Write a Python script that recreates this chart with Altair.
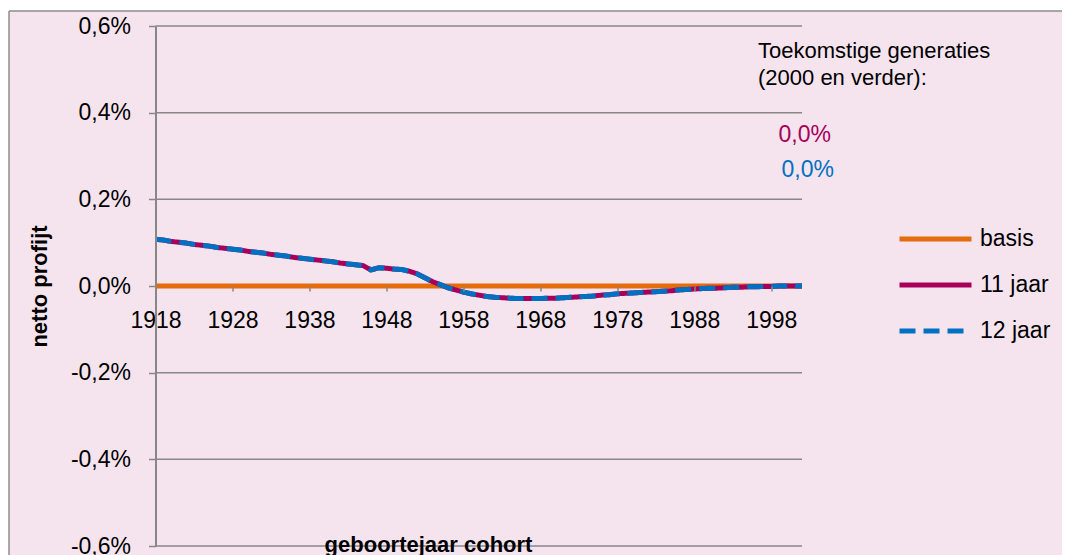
import altair as alt
import pandas as pd

# ---------------- data ----------------
years = list(range(1918, 2003))

series_names = ["basis", "11 jaar", "12 jaar"]
series_colors = ["#E46C0A", "#A6005B", "#0070C0"]
series_dashes = [[1, 0], [1, 0], [16, 8]]

basis = [
    0.000, 0.000, 0.000, 0.000, 0.000, 0.000, 0.000, 0.000, 0.000, 0.000,
    0.000, 0.000, 0.000, 0.000, 0.000, 0.000, 0.000, 0.000, 0.000, 0.000,
    0.000, 0.000, 0.000, 0.000, 0.000, 0.000, 0.000, 0.000, 0.000, 0.000,
    0.000, 0.000, 0.000, 0.000, 0.000, 0.000, 0.000, 0.000, 0.000, 0.000,
    0.000, 0.000, 0.000, 0.000, 0.000, 0.000, 0.000, 0.000, 0.000, 0.000,
    0.000, 0.000, 0.000, 0.000, 0.000, 0.000, 0.000, 0.000, 0.000, 0.000,
    0.000, 0.000, 0.000, 0.000, 0.000, 0.000, 0.000, 0.000, 0.000, 0.000,
    0.000, 0.000, 0.000, 0.000, 0.000, 0.000, 0.000, 0.000, 0.000, 0.000,
    0.000, 0.000, 0.000, 0.000, 0.000,
]

jaar11 = [
    0.108, 0.106, 0.103, 0.101, 0.099, 0.096, 0.094, 0.092, 0.089, 0.087,  # 1918-1927
    0.085, 0.083, 0.080, 0.078, 0.076, 0.073, 0.071, 0.069, 0.066, 0.064,  # 1928-1937
    0.062, 0.060, 0.058, 0.056, 0.053, 0.051, 0.049, 0.047, 0.037, 0.042,  # 1938-1947
    0.041, 0.039, 0.038, 0.034, 0.028, 0.019, 0.010, 0.003, -0.004, -0.009,  # 1948-1957
    -0.014, -0.018, -0.021, -0.024, -0.026, -0.027, -0.028, -0.029, -0.029, -0.029,  # 1958-1967
    -0.029, -0.028, -0.028, -0.027, -0.026, -0.025, -0.024, -0.023, -0.021, -0.020,  # 1968-1977
    -0.018, -0.017, -0.016, -0.015, -0.014, -0.013, -0.012, -0.011, -0.009, -0.008,  # 1978-1987
    -0.007, -0.006, -0.005, -0.005, -0.004, -0.003, -0.003, -0.002, -0.002, -0.001,  # 1988-1997
    -0.001, 0.000, 0.000, 0.000, 0.000,  # 1998-2002
]

jaar12 = [
    0.108, 0.106, 0.103, 0.101, 0.099, 0.096, 0.094, 0.092, 0.089, 0.087,
    0.085, 0.083, 0.080, 0.078, 0.076, 0.073, 0.071, 0.069, 0.066, 0.064,
    0.062, 0.060, 0.058, 0.056, 0.053, 0.051, 0.049, 0.047, 0.037, 0.042,
    0.041, 0.039, 0.038, 0.034, 0.028, 0.019, 0.010, 0.003, -0.004, -0.009,
    -0.014, -0.018, -0.021, -0.024, -0.026, -0.027, -0.028, -0.029, -0.029, -0.029,
    -0.029, -0.028, -0.028, -0.027, -0.026, -0.025, -0.024, -0.023, -0.021, -0.020,
    -0.018, -0.017, -0.016, -0.015, -0.014, -0.013, -0.012, -0.011, -0.009, -0.008,
    -0.007, -0.006, -0.005, -0.005, -0.004, -0.003, -0.003, -0.002, -0.002, -0.001,
    -0.001, 0.000, 0.000, 0.000, 0.000,
]

x_ticks = [1918, 1928, 1938, 1948, 1958, 1968, 1978, 1988, 1998]
y_ticks = [-0.6, -0.4, -0.2, 0.0, 0.2, 0.4, 0.6]
y_tick_labels = ["-0,6%", "-0,4%", "-0,2%", "0,0%", "0,2%", "0,4%", "0,6%"]

note_lines = ["Toekomstige generaties", "(2000 en verder):"]
future_labels = ["0,0%", "0,0%"]

x_title = "geboortejaar cohort"
y_title = "netto profijt"

# ---------------- build table ----------------
rows = []
for name, vals in zip(series_names, [basis, jaar11, jaar12]):
    for yr, v in zip(years, vals):
        rows.append({"jaar": yr, "reeks": name, "waarde": v})
df = pd.DataFrame(rows)
grid_df = pd.DataFrame({"waarde": y_ticks})

FONT = "Liberation Sans"
GRID = "#878787"
BORDER = "#8C8C8C"

label_expr = ""
for v, lab in zip(y_ticks, y_tick_labels):
    label_expr += f"abs(datum.value - ({v})) < 0.0001 ? '{lab}' : "
label_expr += "''"

one = pd.DataFrame({"k": [0]})

x_scale = alt.Scale(domain=[1918, 2002], nice=False, zero=False)
y_scale = alt.Scale(domain=[-0.6, 0.6], nice=False, zero=False)

# chart-area fill with a border on its visible (left and top) edges
background = alt.Chart(one).mark_rect(fill="#F5E4EE").encode(
    x=alt.value(-146.5), x2=alt.value(1000), y=alt.value(-15), y2=alt.value(700)
)
border_left = alt.Chart(one).mark_rule(color=BORDER, strokeWidth=1.5).encode(
    x=alt.value(-146.5), y=alt.value(-15), y2=alt.value(700)
)
border_top = alt.Chart(one).mark_rule(color=BORDER, strokeWidth=1.5).encode(
    x=alt.value(-146.5), x2=alt.value(1000), y=alt.value(-15)
)

gridlines = alt.Chart(grid_df).mark_rule(color=GRID, strokeWidth=1.5).encode(
    y=alt.Y("waarde:Q", scale=y_scale)
)

legend = alt.Legend(
    title=None, orient="none", legendX=741.5, legendY=200.5,
    symbolType="stroke", symbolSize=5184, symbolStrokeWidth=5,
    clipHeight=25, rowPadding=21, labelOffset=6, padding=0,
    labelFont=FONT, labelFontSize=23, labelColor="#000000", labelLimit=300,
)

lines = alt.Chart(df).mark_line(strokeWidth=5, strokeCap="butt", strokeJoin="round").encode(
    x=alt.X(
        "jaar:Q",
        scale=x_scale,
        axis=alt.Axis(
            values=x_ticks, format="d", offset=-260, grid=False, zindex=1,
            domain=False,
            ticks=True, tickColor=GRID, tickSize=5, tickWidth=1.5,
            labelFont=FONT, labelFontSize=23, labelColor="#000000",
            labelPadding=18, labelFlush=False, labelOverlap=False,
            title=x_title, titleFont=FONT, titleFontSize=22, titleFontWeight="bold",
            titleColor="#000000", titleX=272.5, titleY=265,
            titleAlign="center", titleBaseline="alphabetic",
        ),
    ),
    y=alt.Y(
        "waarde:Q",
        scale=y_scale,
        axis=alt.Axis(
            values=y_ticks, labelExpr=label_expr, grid=False, zindex=1,
            domain=True, domainColor=GRID, domainWidth=2,
            ticks=True, tickColor=GRID, tickSize=7, tickWidth=1.5,
            labelFont=FONT, labelFontSize=23, labelColor="#000000",
            labelPadding=18, labelFlush=False, labelOverlap=False,
            title=y_title, titleFont=FONT, titleFontSize=22, titleFontWeight="bold",
            titleColor="#000000", titleAngle=270, titleX=-116, titleY=260,
            titleAlign="center", titleBaseline="middle",
        ),
    ),
    color=alt.Color(
        "reeks:N", scale=alt.Scale(domain=series_names, range=series_colors),
        legend=legend,
    ),
    strokeDash=alt.StrokeDash(
        "reeks:N", scale=alt.Scale(domain=series_names, range=series_dashes),
        legend=legend,
    ),
)


def text_layer(txt, x, y, color, align, size):
    return alt.Chart(one).mark_text(
        font=FONT, fontSize=size, color=color, align=align, baseline="alphabetic"
    ).encode(x=alt.value(x), y=alt.value(y), text=alt.value(txt))


notes = [
    text_layer(note_lines[0], 602.5, 31.5, "#000000", "left", 22),
    text_layer(note_lines[1], 602.5, 59, "#000000", "left", 22),
    text_layer(future_labels[0], 675.5, 115.7, series_colors[1], "right", 23),
    text_layer(future_labels[1], 678.5, 150.7, series_colors[2], "right", 23),
]

chart = alt.layer(
    background, border_left, border_top, gridlines, lines, *notes
).properties(
    width=646.5,
    height=520,
    autosize=alt.AutoSizeParams(type="none"),
    padding={"left": 147.5, "top": 18, "right": 260, "bottom": 9},
    background="#FFFFFF",
).configure_view(stroke=None)

chart.save("out.html", embed_options={"renderer": "svg", "actions": False})
